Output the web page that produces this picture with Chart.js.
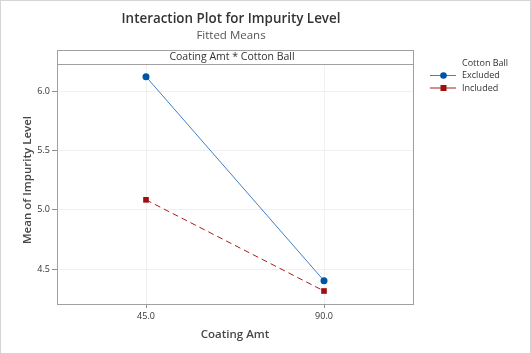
<!DOCTYPE html>
<html><head><meta charset="utf-8">
<script src="https://cdn.jsdelivr.net/npm/chart.js@4"></script>
<style>
html,body{margin:0;padding:0;background:#fff;}
#wrap{position:relative;width:531px;height:354px;box-sizing:border-box;border:1px solid #d4d4d4;}
canvas{display:block;}
</style></head><body>
<div id="wrap"><canvas id="c" width="529" height="352"></canvas></div>
<script>
const coatingAmt = [45, 90];
const xTickLabels = ['45.0', '90.0'];
const yTickValues = [4.5, 5.0, 5.5, 6.0];
const excluded = [6.127, 4.401];
const included = [5.085, 4.314];
const seriesNames = ['Excluded', 'Included'];

const FONT = '"Open Sans", "Noto Sans", sans-serif';

const decor = {
  id: 'decor',
  afterDraw(chart) {
    const ctx = chart.ctx;
    const a = chart.chartArea;
    ctx.save();
    // frame
    ctx.strokeStyle = '#a0a0a0';
    ctx.lineWidth = 1;
    const top = a.top - 14;
    ctx.strokeRect(Math.round(a.left) + 0.5, Math.round(top) + 0.5, Math.round(a.right - a.left), Math.round(a.bottom - top));
    ctx.beginPath();
    ctx.moveTo(a.left, Math.round(a.top) + 0.5);
    ctx.lineTo(a.right, Math.round(a.top) + 0.5);
    ctx.stroke();
    const cx = (a.left + a.right) / 2;
    ctx.fillStyle = '#333';
    ctx.textAlign = 'center';
    ctx.textBaseline = 'middle';
    ctx.font = '10.5px ' + FONT;
    ctx.fillText('Coating Amt * Cotton Ball', cx - 3, top + 7);
    // titles
    ctx.font = '600 13.4px ' + FONT;
    ctx.fillStyle = '#333';
    ctx.fillText('Interaction Plot for Impurity Level', cx - 4, 18);
    ctx.font = '11.5px ' + FONT;
    ctx.fillStyle = '#555';
    ctx.fillText('Fitted Means', cx - 4, 35);
    // axis titles
    ctx.font = '600 11.5px ' + FONT;
    ctx.fillStyle = '#484848';
    ctx.fillText('Coating Amt', cx - 0, 334);
    ctx.save();
    ctx.translate(27, 179);
    ctx.rotate(-Math.PI / 2);
    ctx.fillText('Mean of Impurity Level', 0, 0);
    ctx.restore();
    // legend
    ctx.textAlign = 'left';
    ctx.font = '9px ' + FONT;
    ctx.fillStyle = '#333';
    ctx.fillText('Cotton Ball', 461, 62);
    const ds = chart.data.datasets;
    ds.forEach((d, i) => {
      const y = 74.5 + i * 12.5;
      ctx.strokeStyle = d.borderColor;
      ctx.lineWidth = 1;
      ctx.setLineDash([]);
      ctx.beginPath(); ctx.moveTo(429, y); ctx.lineTo(455, y); ctx.stroke();
      ctx.fillStyle = d.pointBackgroundColor;
      if (d.pointStyle === 'circle') {
        ctx.beginPath(); ctx.arc(442.5, y, 3.3, 0, Math.PI * 2); ctx.fill();
      } else {
        ctx.fillRect(439.5, y - 3, 6, 6);
      }
      ctx.fillStyle = '#333';
      ctx.fillText(d.label, 461, y);
    });
    ctx.restore();
  }
};

new Chart(document.getElementById('c'), {
  type: 'line',
  data: {
    datasets: [
      {
        label: seriesNames[0],
        data: coatingAmt.map((x, i) => ({x, y: excluded[i]})),
        borderColor: '#3f7fc4',
        borderWidth: 1,
        pointStyle: 'circle',
        pointRadius: 3.5,
        pointBackgroundColor: '#0054a6',
        pointBorderColor: '#0054a6',
        pointBorderWidth: 0,
        tension: 0
      },
      {
        label: seriesNames[1],
        data: coatingAmt.map((x, i) => ({x, y: included[i]})),
        borderColor: '#a81c1c',
        borderWidth: 1,
        borderDash: [6, 4],
        pointStyle: 'rect',
        pointRadius: 4,
        pointBackgroundColor: '#9b1111',
        pointBorderColor: '#9b1111',
        pointBorderWidth: 0,
        tension: 0
      }
    ]
  },
  options: {
    responsive: false,
    animation: false,
    events: [],
    layout: {padding: {left: 0, right: 117, top: 63, bottom: 0}},
    plugins: {legend: {display: false}, title: {display: false}, tooltip: {enabled: false}},
    scales: {
      x: {
        type: 'linear',
        min: 22.5, max: 112.5,
        afterBuildTicks(s) { s.ticks = coatingAmt.map(v => ({value: v})); },
        afterFit(s) { s.height = 49; },
        ticks: {
          callback: (v) => xTickLabels[coatingAmt.indexOf(v)],
          font: {family: FONT, size: 9}, color: '#333', padding: 3, maxRotation: 0, autoSkip: false
        },
        grid: {color: '#f0f0f0', tickColor: '#909090', tickLength: 4, drawOnChartArea: true},
        border: {display: false}
      },
      y: {
        type: 'linear',
        min: 4.204, max: 6.234,
        afterBuildTicks(s) { s.ticks = yTickValues.map(v => ({value: v})); },
        afterFit(s) { s.width = 56; },
        ticks: {
          callback: (v) => v.toFixed(1),
          font: {family: FONT, size: 9}, color: '#333', padding: 2, autoSkip: false
        },
        grid: {color: '#f0f0f0', tickColor: '#909090', tickLength: 5},
        border: {display: false}
      }
    }
  },
  plugins: [decor]
});
</script>
</body></html>
